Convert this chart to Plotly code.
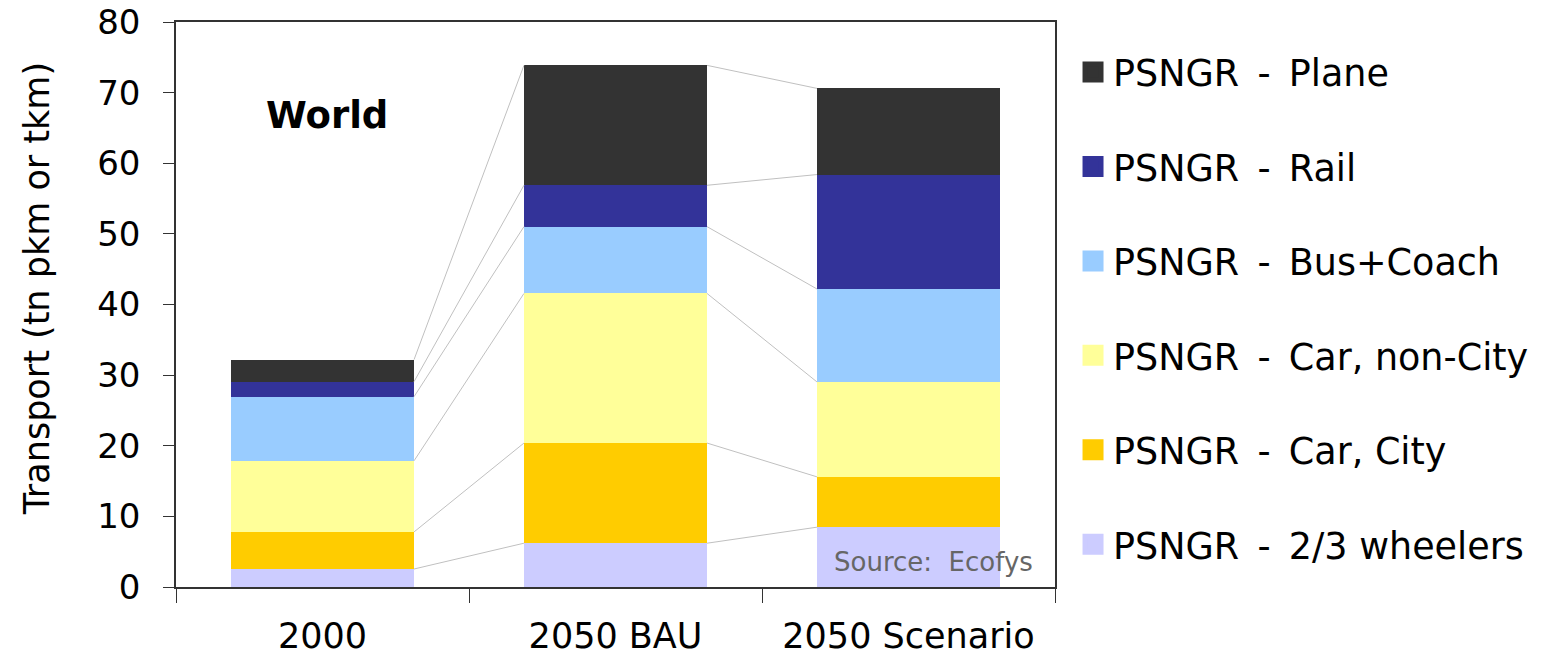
import plotly.graph_objects as go

categories = ["2000", "2050 BAU", "2050 Scenario"]
series_names = ["PSNGR - 2/3 wheelers", "PSNGR - Car, City", "PSNGR - Car, non-City",
                "PSNGR - Bus+Coach", "PSNGR - Rail", "PSNGR - Plane"]
wheelers = [2.55, 6.2, 8.47]
car_city = [5.25, 14.18, 7.13]
car_noncity = [10.07, 21.18, 13.44]
bus_coach = [9.08, 9.46, 13.16]
rail = [2.13, 5.86, 16.2]
plane = [3.12, 16.98, 12.2]
y_ticks = [0, 10, 20, 30, 40, 50, 60, 70, 80]

series_values = [wheelers, car_city, car_noncity, bus_coach, rail, plane]
colors = ["#CCCCFF", "#FFCC00", "#FFFF99", "#99CCFF", "#333399", "#333333"]

FONT = "DejaVu Sans, Verdana, sans-serif"
BAR_W = 0.625
xs = list(range(len(categories)))

fig = go.Figure()

# connector lines between stacked segment tops
cum = [0.0] * len(categories)
tops = []
for vals in series_values:
    cum = [c + v for c, v in zip(cum, vals)]
    tops.append(cum[:])
for t in tops:
    lx, ly = [], []
    for i in range(len(categories) - 1):
        lx += [xs[i] + BAR_W / 2, xs[i + 1] - BAR_W / 2, None]
        ly += [t[i], t[i + 1], None]
    fig.add_trace(go.Scatter(x=lx, y=ly, mode="lines", line=dict(color="#C0C0C0", width=1),
                             showlegend=False, hoverinfo="skip"))

for name, vals, col in zip(series_names, series_values, colors):
    fig.add_trace(go.Bar(x=xs, y=vals, name=name, width=BAR_W,
                         marker=dict(color=col, line=dict(width=0)), showlegend=False))

# legend entries, top-to-bottom as in the original (Plane first)
for name, col in reversed(list(zip(series_names, colors))):
    label = name.replace(" - ", "\u2002-\u2002")
    fig.add_trace(go.Scatter(x=[None], y=[None], mode="markers", name=label, legendgroup=name,
                             marker=dict(symbol="square", size=16, color=col, line=dict(color=col, width=5))))

fig.update_layout(
    width=1547, height=657,
    barmode="stack",
    plot_bgcolor="white", paper_bgcolor="white",
    margin=dict(l=176, r=492, t=22, b=70),
    font=dict(family=FONT, size=34, color="black"),
    legend=dict(x=1.0205, y=0.965, xanchor="left", yanchor="top", traceorder="grouped",
                tracegroupgap=44, font=dict(size=36.5), bgcolor="rgba(0,0,0,0)"),
    showlegend=True,
)
fig.update_xaxes(
    range=[-0.5, 2.5], tickvals=xs, ticktext=categories, ticks="", showgrid=False, zeroline=False,
    showline=True, linecolor="#333333", linewidth=1.5, mirror=True, ticklabelstandoff=17,
    tickfont=dict(size=35), automargin=False, ticklabeloverflow="allow",
    minor=dict(tickvals=[-0.5, 0.5, 1.5, 2.5], ticks="outside", ticklen=14, tickcolor="#333333", showgrid=False),
)
fig.update_yaxes(
    range=[0, 80], tickvals=y_ticks, ticks="outside", ticklen=11, tickcolor="#333333",
    showgrid=False, zeroline=False, showline=True, linecolor="#333333", linewidth=1.5, mirror=True,
    ticklabelstandoff=16, tickfont=dict(size=34), automargin=False, ticklabeloverflow="allow",
)
fig.add_annotation(text="Transport (tn pkm or tkm)", xref="paper", yref="paper", x=-0.158, y=0.527,
                   xanchor="center", yanchor="middle", textangle=-90,
                   showarrow=False, font=dict(size=35, color="black"))
fig.add_annotation(text="<b>World</b>", xref="paper", yref="paper", x=0.172, y=0.834,
                   xanchor="center", yanchor="middle",
                   showarrow=False, font=dict(size=37, color="black"))
fig.add_annotation(text="Source:  Ecofys", xref="paper", yref="paper", x=0.977, y=0.044,
                   xanchor="right", yanchor="middle", showarrow=False, font=dict(size=26, color="#666666"))

fig.write_html("out.html", config={"displayModeBar": False},
               post_script="document.body.style.margin='0px';")
